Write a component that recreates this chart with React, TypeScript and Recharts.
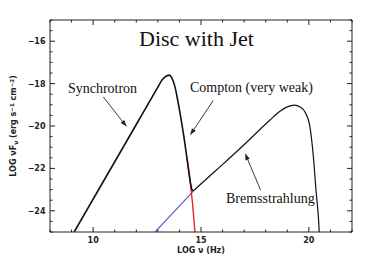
import React from 'react';
import { LineChart, Line, XAxis, YAxis, ReferenceLine, ReferenceDot } from 'recharts';

// axis ticks (minor every 1 on x, every 0.5 on y; labels only on majors)
const xTicks = [8, 9, 10, 11, 12, 13, 14, 15, 16, 17, 18, 19, 20, 21, 22];
const yTicks = [
  -25, -24.5, -24, -23.5, -23, -22.5, -22, -21.5, -21, -20.5, -20,
  -19.5, -19, -18.5, -18, -17.5, -17, -16.5, -16, -15.5, -15,
];
const xMajor = [10, 15, 20];
const yMajor = [-24, -22, -20, -18, -16];

// total spectrum, synchrotron hump (black)
const synchrotron = [
  { x: 9.12, y: -25 },
  { x: 12.0, y: -19.93 },
  { x: 13.0, y: -18.17 },
  { x: 13.2, y: -17.82 },
  { x: 13.4, y: -17.64 },
  { x: 13.53, y: -17.6 },
  { x: 13.66, y: -17.75 },
  { x: 13.8, y: -18.18 },
  { x: 13.93, y: -18.84 },
  { x: 14.07, y: -19.64 },
  { x: 14.21, y: -20.53 },
  { x: 14.35, y: -21.52 },
  { x: 14.49, y: -22.55 },
  { x: 14.56, y: -22.93 },
  { x: 14.625, y: -23.08 },
];

// total spectrum, bremsstrahlung hump (black)
const bremsstrahlung = [
  { x: 14.625, y: -23.08 },
  { x: 15.7, y: -22.09 },
  { x: 16.81, y: -21.06 },
  { x: 18.2, y: -19.72 },
  { x: 18.66, y: -19.3 },
  { x: 19.0, y: -19.1 },
  { x: 19.33, y: -19.02 },
  { x: 19.6, y: -19.1 },
  { x: 19.82, y: -19.34 },
  { x: 20.05, y: -20.04 },
  { x: 20.21, y: -21.46 },
  { x: 20.33, y: -23.02 },
  { x: 20.46, y: -24.59 },
  { x: 20.48, y: -25 },
];

// synchrotron component below the crossing (red)
const synchrotronTail = [
  { x: 14.35, y: -21.52 },
  { x: 14.49, y: -22.55 },
  { x: 14.606, y: -23.64 },
  { x: 14.72, y: -25 },
];

// bremsstrahlung component below the crossing (blue)
const bremsLow = [
  { x: 12.87, y: -25 },
  { x: 14.625, y: -23.1 },
];

const notes = [
  { text: 'Synchrotron', x: 8.83, y: -18.44 },
  { text: 'Compton (very weak)', x: 14.49, y: -18.41 },
  { text: 'Bremsstrahlung', x: 16.16, y: -23.61 },
];

const arrows = [
  { x1: 10.47, y1: -18.63, x2: 11.56, y2: -20.04 },
  { x1: 15.57, y1: -18.79, x2: 14.49, y2: -20.44 },
  { x1: 17.76, y1: -23.02, x2: 17.04, y2: -21.28 },
];

const INK = '#222';
const tickFont = { fontFamily: 'DejaVu Sans', fontSize: 8, fontWeight: 700, fill: INK };

const renderTick = (side: 'bottom' | 'top' | 'left' | 'right') => (props: any) => {
  const { x, y, payload } = props;
  const v = payload.value;
  const major = (side === 'bottom' || side === 'top' ? xMajor : yMajor).includes(v);
  const len = major ? 5 : 2.5;
  const label = String(v).replace('-', '\u2212');
  if (side === 'bottom') {
    return (
      <g>
        <line x1={x} y1={y} x2={x} y2={y - len} stroke={INK} />
        {major && <text x={x} y={y + 11.3} textAnchor="middle" {...tickFont}>{label}</text>}
      </g>
    );
  }
  if (side === 'top') return <line x1={x} y1={y} x2={x} y2={y + len} stroke={INK} />;
  if (side === 'right') return <line x1={x} y1={y} x2={x - len} y2={y} stroke={INK} />;
  return (
    <g>
      <line x1={x} y1={y} x2={x + len} y2={y} stroke={INK} />
      {major && <text x={x - 4.5} y={y + 2.9} textAnchor="end" {...tickFont}>{label}</text>}
    </g>
  );
};

const YTitle = ({ viewBox }: any) => {
  const cx = viewBox.x + 8;
  const cy = viewBox.y + viewBox.height / 2;
  return (
    <text transform={`rotate(-90 ${cx} ${cy})`} x={cx} y={cy} textAnchor="middle" {...tickFont}>
      LOG νF<tspan dy={2} fontSize={6}>ν</tspan>
      <tspan dy={-2}> (erg s</tspan>
      <tspan dy={-2.5} fontSize={5.5}>−1</tspan>
      <tspan dy={2.5}> cm</tspan>
      <tspan dy={-2.5} fontSize={5.5}>−2</tspan>
      <tspan dy={2.5}>)</tspan>
    </text>
  );
};

const XTitle = ({ viewBox }: any) => (
  <text x={viewBox.x + viewBox.width / 2} y={viewBox.y + 20.5} textAnchor="middle" {...tickFont}>
    LOG ν (Hz)
  </text>
);

const Arrow = (p: any) => {
  const { x1, y1, x2, y2 } = p;
  const dx = x2 - x1;
  const dy = y2 - y1;
  const d = Math.hypot(dx, dy) || 1;
  const ux = dx / d;
  const uy = dy / d;
  const L = 7;
  const W = 2.3;
  const bx = x2 - ux * L;
  const by = y2 - uy * L;
  return (
    <g>
      <line x1={x1} y1={y1} x2={bx} y2={by} stroke={INK} strokeWidth={0.9} />
      <polygon
        points={`${x2},${y2} ${bx - uy * W},${by + ux * W} ${bx + uy * W},${by - ux * W}`}
        fill={INK}
      />
    </g>
  );
};

const serif = 'Liberation Serif, Times New Roman, serif';

export default function App() {
  return (
    <LineChart width={366} height={255} margin={{ top: 0, right: 0, bottom: 0, left: 0 }}>
      <XAxis
        dataKey="x"
        type="number"
        domain={[8, 22]}
        ticks={xTicks}
        interval={0}
        allowDataOverflow
        tickSize={0}
        tickMargin={0}
        tickLine={false}
        height={31}
        axisLine={{ stroke: INK }}
        tick={renderTick('bottom')}
        label={{ content: XTitle }}
      />
      <XAxis
        xAxisId="top"
        orientation="top"
        dataKey="x"
        type="number"
        domain={[8, 22]}
        ticks={xTicks}
        interval={0}
        allowDataOverflow
        tickSize={0}
        tickMargin={0}
        tickLine={false}
        height={12}
        axisLine={{ stroke: INK }}
        tick={renderTick('top')}
      />
      <YAxis
        type="number"
        domain={[-25, -15]}
        ticks={yTicks}
        interval={0}
        allowDataOverflow
        tickSize={0}
        tickMargin={0}
        tickLine={false}
        width={42}
        axisLine={{ stroke: INK }}
        tick={renderTick('left')}
        label={{ content: YTitle }}
      />
      <YAxis
        yAxisId="right"
        orientation="right"
        type="number"
        domain={[-25, -15]}
        ticks={yTicks}
        interval={0}
        allowDataOverflow
        tickSize={0}
        tickMargin={0}
        tickLine={false}
        width={22}
        axisLine={{ stroke: INK }}
        tick={renderTick('right')}
      />

      <Line data={bremsLow} dataKey="y" stroke="#5656d8" strokeWidth={1.1} dot={false} isAnimationActive={false} type="linear" />
      <Line data={synchrotronTail} dataKey="y" stroke="#f01515" strokeWidth={1.3} dot={false} isAnimationActive={false} type="monotone" />
      <Line data={bremsstrahlung} dataKey="y" stroke="#111" strokeWidth={1.2} dot={false} isAnimationActive={false} type="monotone" />
      <Line data={synchrotron} dataKey="y" stroke="#111" strokeWidth={1.6} dot={false} isAnimationActive={false} type="monotone" />

      {arrows.map((a, i) => (
        <ReferenceLine
          key={`arrow-${i}`}
          segment={[{ x: a.x1, y: a.y1 }, { x: a.x2, y: a.y2 }]}
          shape={Arrow}
        />
      ))}
      {notes.map((n) => (
        <ReferenceDot
          key={n.text}
          x={n.x}
          y={n.y}
          shape={(p: any) => (
            <text x={p.cx} y={p.cy} fontFamily={serif} fontSize={14} fill="#111">
              {n.text}
            </text>
          )}
        />
      ))}
      <ReferenceDot
        x={14.79}
        y={-16.23}
        shape={(p: any) => (
          <text x={p.cx} y={p.cy} textAnchor="middle" fontFamily={serif} fontSize={22} fill="#111">
            Disc with Jet
          </text>
        )}
      />
    </LineChart>
  );
}
